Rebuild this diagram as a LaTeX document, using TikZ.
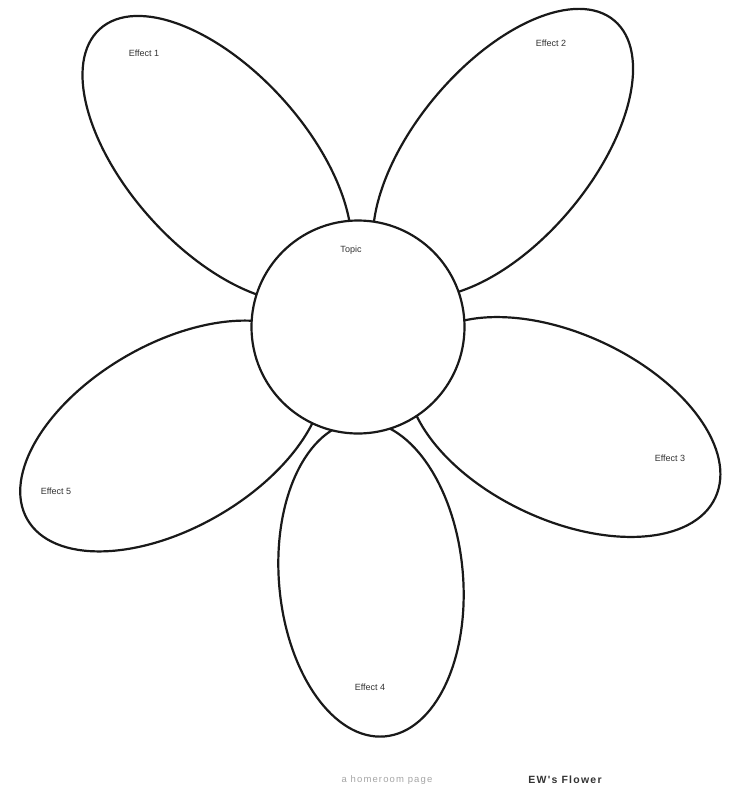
\documentclass[tikz,border=0pt]{standalone}
\usepackage{fontspec}
\setmainfont{Liberation Sans}
\newfontfamily\footfont[LetterSpace=12]{Liberation Sans}
\usetikzlibrary{shapes.geometric}
\begin{document}
\begin{tikzpicture}[x=1pt,y=-1pt,
  petal/.style={draw=black!90,line width=2.2pt,fill=white,ellipse,inner sep=0pt},
  core/.style={draw=black!90,line width=2.2pt,fill=white,circle,inner sep=0pt,minimum size=213pt},
  lbl/.style={font=\fontsize{9}{10}\selectfont,text=black!80},
  foot/.style={font=\footfont\fontsize{9.5}{10}\selectfont}]
\useasboundingbox (0,0) rectangle (730,788);
\fill[white] (0,0) rectangle (730,788);
% petals (bottom petal lies behind its neighbours)
\node[petal,minimum width=316pt,minimum height=184pt,rotate=95] (pb) at (371,579) {};
\node[petal,minimum width=350pt,minimum height=178pt,rotate=-48] (ptl) at (217,159) {};
\node[petal,minimum width=346pt,minimum height=176pt,rotate=50] (ptr) at (503,153) {};
\node[petal,minimum width=334pt,minimum height=184pt,rotate=30] (pl) at (172,436) {};
\node[petal,minimum width=334pt,minimum height=186pt,rotate=-25] (pr) at (564,427) {};
% center
\node[core] (c) at (358,327) {};
% labels
\node[lbl] (ltl) at (144,53) {Effect 1};
\node[lbl] (ltr) at (551,43) {Effect 2};
\node[lbl] (lc) at (351,250) {Topic};
\node[lbl] (lr) at (670,458) {Effect 3};
\node[lbl] (lb) at (370,687) {Effect 4};
\node[lbl] (ll) at (56,491) {Effect 5};
% footer
\node[foot,text=black!35] (f1) at (387,780) {a homeroom page};
\node[foot,font=\footfont\fontsize{10.5}{11}\selectfont\bfseries,text=black!80] (f2) at (565,780) {EW's Flower};
\end{tikzpicture}
\end{document}
